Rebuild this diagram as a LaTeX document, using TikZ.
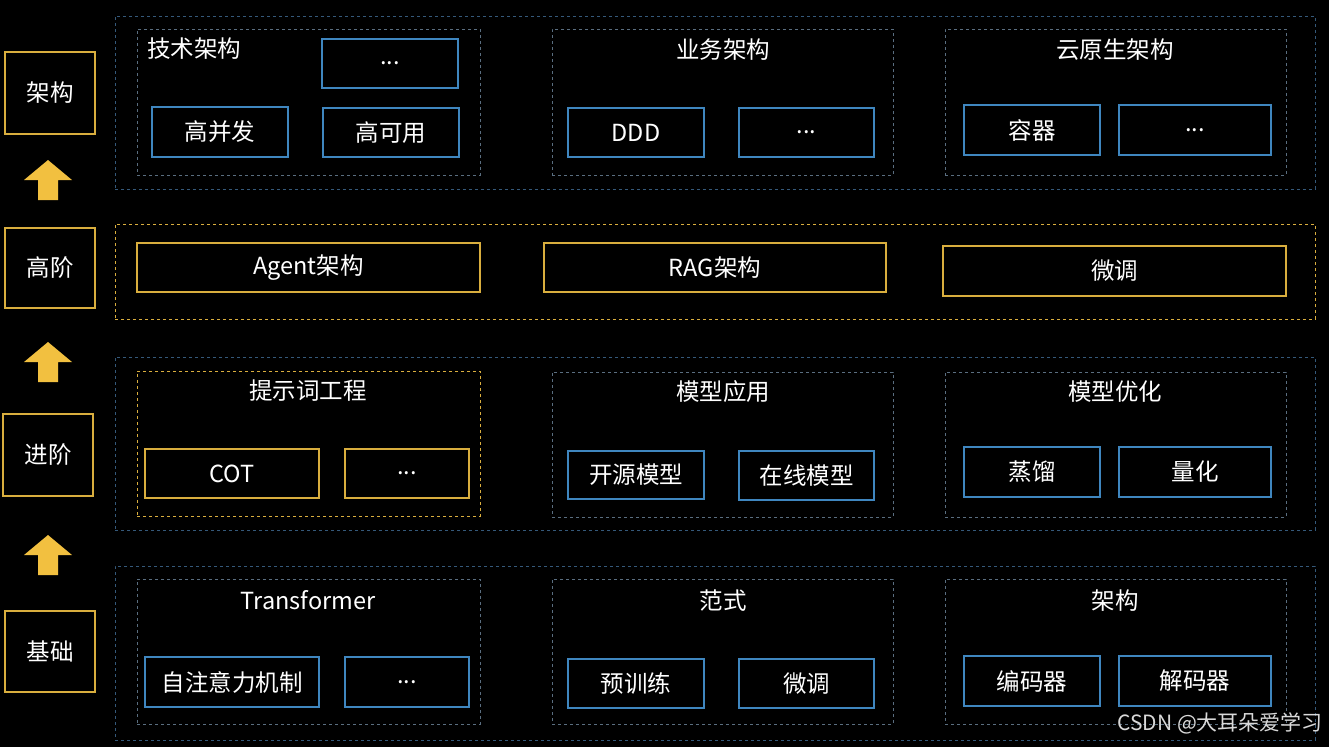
\documentclass[tikz,border=0pt]{standalone}
\usepackage{fontspec}
\setmainfont{Noto Sans CJK SC}
\usetikzlibrary{positioning}
\definecolor{bluebox}{HTML}{3F86BF}
\definecolor{bluedash}{HTML}{35597A}
\definecolor{graydash}{HTML}{5A6E80}
\definecolor{ybox}{HTML}{D9AE3E}
\definecolor{yarrow}{HTML}{F2C040}
\newcommand{\bx}[7][]{%
  \node[#1, minimum width=#4pt-#2pt, minimum height=#5pt-#3pt, anchor=center]
    (#6) at ({(#2+#4)/2},{(#3+#5)/2}) {#7};}
\begin{document}
\begin{tikzpicture}[x=1pt, y=-1pt, font=\fontsize{23.5}{26}\selectfont, text=white,
  inner sep=0pt, outer sep=0pt]
  \tikzset{
    level/.style={draw=ybox, line width=1.2pt},
    item/.style={draw=bluebox, line width=1.2pt},
    yitem/.style={draw=ybox, line width=1.2pt},
    outer/.style={draw=bluedash, dashed, line width=0.9pt},
    youter/.style={draw=ybox, dashed, line width=0.9pt},
    group/.style={draw=graydash, dashed, line width=0.9pt},
    ygroup/.style={draw=ybox, dashed, line width=0.9pt},
    up/.style={fill=yarrow}
  }
  \fill[black] (0,0) rectangle (1329,747);
  \useasboundingbox (0,0) rectangle (1329,747);

  % left levels
  \bx[level]{5}{52}{95}{134}{l4}{架构}
  \bx[level]{5}{228}{95}{308}{l3}{高阶}
  \bx[level]{3}{414}{93}{496}{l2}{进阶}
  \bx[level]{5}{611}{95}{692}{l1}{基础}
  \foreach \y in {160,342,535}
    \fill[up] (48,\y) -- (72,\y+20) -- (58,\y+20) -- (58,\y+40)
      -- (38,\y+40) -- (38,\y+20) -- (24,\y+20) -- cycle;

  % row 1
  \bx[outer]{115}{16}{1315}{189}{r4}{}
  \bx[group]{137}{29}{480}{175}{g41}{}
  \bx[group]{552}{29}{893}{175}{g42}{}
  \bx[group]{945}{29}{1286}{175}{g43}{}
  \node[anchor=west] (t41) at (147,49) {技术架构};
  \node (t42) at (723,50) {业务架构};
  \node (t43) at (1115,50) {云原生架构};
  \bx[item]{322}{39}{458}{88}{b411}{...}
  \bx[item]{152}{107}{288}{157}{b412}{高并发}
  \bx[item]{323}{108}{459}{157}{b413}{高可用}
  \bx[item]{568}{108}{704}{157}{b421}{DDD}
  \bx[item]{739}{108}{874}{157}{b422}{...}
  \bx[item]{964}{105}{1100}{155}{b431}{容器}
  \bx[item]{1119}{105}{1271}{155}{b432}{...}

  % row 2
  \bx[youter]{115}{224}{1315}{319}{r3}{}
  \bx[yitem]{137}{243}{480}{292}{b31}{Agent架构}
  \bx[yitem]{544}{243}{886}{292}{b32}{RAG架构}
  \bx[yitem]{943}{246}{1286}{296}{b33}{微调}

  % row 3
  \bx[outer]{115}{357}{1315}{530}{r2}{}
  \bx[ygroup]{137}{371}{480}{516}{g21}{}
  \bx[group]{552}{372}{893}{517}{g22}{}
  \bx[group]{945}{372}{1286}{517}{g23}{}
  \node (t21) at (308,391) {提示词工程};
  \node (t22) at (723,392) {模型应用};
  \node (t23) at (1115,392) {模型优化};
  \bx[yitem]{145}{449}{319}{498}{b211}{COT}
  \bx[yitem]{345}{449}{469}{498}{b212}{...}
  \bx[item]{568}{451}{704}{499}{b221}{开源模型}
  \bx[item]{739}{451}{874}{500}{b222}{在线模型}
  \bx[item]{964}{447}{1100}{497}{b231}{蒸馏}
  \bx[item]{1119}{447}{1271}{497}{b232}{量化}

  % row 4
  \bx[outer]{115}{566}{1315}{740}{r1}{}
  \bx[group]{137}{579}{480}{724}{g11}{}
  \bx[group]{552}{579}{893}{724}{g12}{}
  \bx[group]{945}{579}{1286}{724}{g13}{}
  \node (t11) at (308,600) {Transformer};
  \node (t12) at (723,601) {范式};
  \node (t13) at (1115,601) {架构};
  \bx[item]{145}{657}{319}{707}{b111}{自注意力机制}
  \bx[item]{345}{657}{469}{707}{b112}{...}
  \bx[item]{568}{659}{704}{708}{b121}{预训练}
  \bx[item]{739}{659}{874}{708}{b122}{微调}
  \bx[item]{964}{656}{1100}{706}{b131}{编码器}
  \bx[item]{1119}{656}{1271}{706}{b132}{解码器}

  \node[text=white!85!black, font=\fontsize{21}{24}\selectfont, anchor=east]
    (wm) at (1323,723) {CSDN @大耳朵爱学习};
\end{tikzpicture}
\end{document}
